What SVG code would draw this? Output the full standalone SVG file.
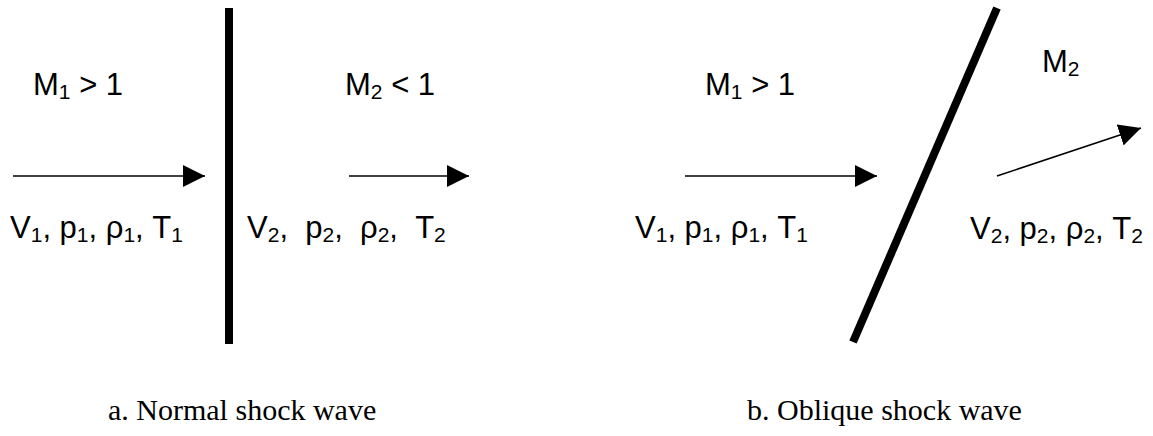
<svg xmlns="http://www.w3.org/2000/svg" width="1153" height="436" viewBox="0 0 1153 436">
<style>
.lbl{font-family:"Liberation Sans",Arial,sans-serif;font-size:31px;fill:#000}
.sub{font-size:21px}
.cap{font-family:"Liberation Serif","Times New Roman",serif;font-size:30px;fill:#000}
.shock{stroke:#000;stroke-width:8;fill:none}
.flow{stroke:#000;stroke-width:1.6;fill:none;marker-end:url(#ah)}
</style>
<defs>
<marker id="ah" markerUnits="userSpaceOnUse" markerWidth="22" markerHeight="22" viewBox="0 0 20 20" refX="20" refY="10" orient="auto">
<path d="M0,0 L20,10 L0,20 Z" fill="#000"/>
</marker>
</defs>
<rect width="1153" height="436" fill="#fff"/>
<g id="shocks">
<line id="normal-shock" class="shock" x1="229" y1="8" x2="229" y2="344"/>
<line id="oblique-shock" class="shock" x1="997" y1="8" x2="853" y2="342"/>
</g>
<g id="connectors">
<line class="flow" x1="13" y1="176" x2="205" y2="176"/>
<line class="flow" x1="349" y1="176" x2="469" y2="176"/>
<line class="flow" x1="685" y1="176" x2="877" y2="176"/>
<line class="flow" x1="997" y1="176" x2="1141" y2="128"/>
</g>
<g id="normal-upstream">
<text class="lbl" x="33" y="95">M<tspan class="sub" dy="3.5">1</tspan><tspan dy="-3.5"> &gt; 1</tspan></text>
<text class="lbl" x="10" y="238">V<tspan class="sub" dy="3.5">1</tspan><tspan dy="-3.5">, p</tspan><tspan class="sub" dy="3.5">1</tspan><tspan dy="-3.5">, ρ</tspan><tspan class="sub" dy="3.5">1</tspan><tspan dy="-3.5">, T</tspan><tspan class="sub" dy="3.5">1</tspan></text>
</g>
<g id="normal-downstream">
<text class="lbl" x="345" y="95">M<tspan class="sub" dy="3.5">2</tspan><tspan dy="-3.5"> &lt; 1</tspan></text>
<text class="lbl" x="247" y="238" xml:space="preserve">V<tspan class="sub" dy="3.5">2</tspan><tspan dy="-3.5">,  p</tspan><tspan class="sub" dy="3.5">2</tspan><tspan dy="-3.5">,  ρ</tspan><tspan class="sub" dy="3.5">2</tspan><tspan dy="-3.5">,  T</tspan><tspan class="sub" dy="3.5">2</tspan></text>
</g>
<g id="oblique-upstream">
<text class="lbl" x="705" y="95">M<tspan class="sub" dy="3.5">1</tspan><tspan dy="-3.5"> &gt; 1</tspan></text>
<text class="lbl" x="635" y="238">V<tspan class="sub" dy="3.5">1</tspan><tspan dy="-3.5">, p</tspan><tspan class="sub" dy="3.5">1</tspan><tspan dy="-3.5">, ρ</tspan><tspan class="sub" dy="3.5">1</tspan><tspan dy="-3.5">, T</tspan><tspan class="sub" dy="3.5">1</tspan></text>
</g>
<g id="oblique-downstream">
<text class="lbl" x="1042" y="72">M<tspan class="sub" dy="3.5">2</tspan></text>
<text class="lbl" x="970" y="239">V<tspan class="sub" dy="3.5">2</tspan><tspan dy="-3.5">, p</tspan><tspan class="sub" dy="3.5">2</tspan><tspan dy="-3.5">, ρ</tspan><tspan class="sub" dy="3.5">2</tspan><tspan dy="-3.5">, T</tspan><tspan class="sub" dy="3.5">2</tspan></text>
</g>
<g id="captions">
<text class="cap" x="108" y="420">a. Normal shock wave</text>
<text class="cap" x="747" y="420">b. Oblique shock wave</text>
</g>
</svg>
